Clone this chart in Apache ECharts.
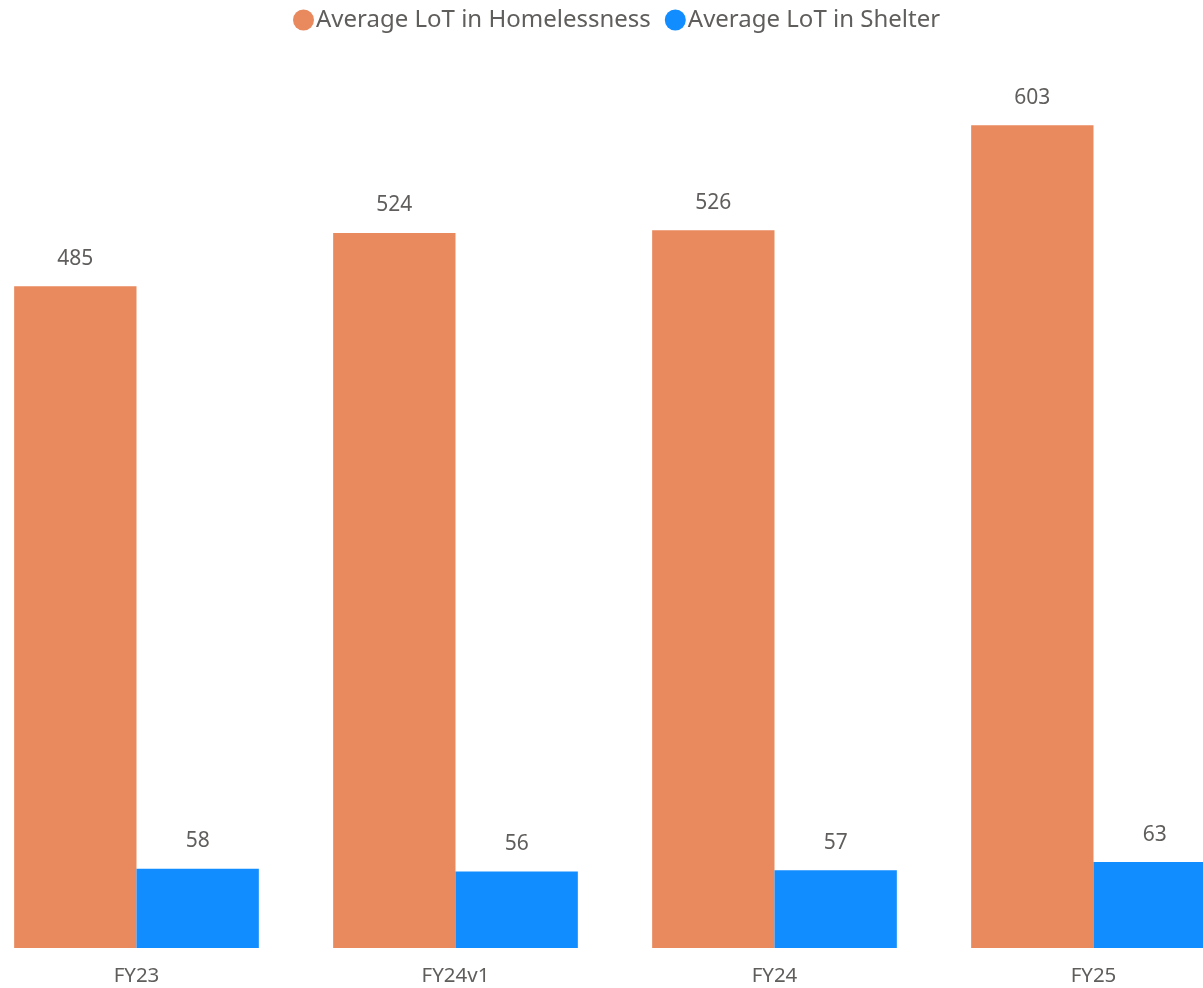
<!DOCTYPE html>
<html><head><meta charset="utf-8">
<script src="https://cdn.jsdelivr.net/npm/echarts@6/dist/echarts.min.js"></script>
<style>html,body{margin:0;padding:0;background:#fff;overflow:hidden;width:1203px;height:988px;position:relative}
#c{position:absolute;left:-23px;top:0;width:1276px;height:988px}</style>
</head><body><div id="c"></div>
<script>
const categories = ['FY23', 'FY24v1', 'FY24', 'FY25'];
const homelessness = [485, 524, 526, 603];
const shelter = [58, 56, 57, 63];
const seriesNames = ['Average LoT in Homelessness', 'Average LoT in Shelter'];

const font = 'Noto Sans';
const txt = '#605E5C';
const chart = echarts.init(document.getElementById('c'));
const lbl = {show: true, position: 'top', distance: 17, color: txt, fontFamily: font, fontSize: 21};
chart.setOption({
  animation: false,
  legend: {
    top: 3, left: 311, itemWidth: 21, itemHeight: 21, itemGap: 14,
    icon: 'circle',
    textStyle: {color: txt, fontFamily: font, fontSize: 24, padding: [0, 0, 0, -3]},
    data: seriesNames
  },
  grid: {left: 0, right: 0, bottom: 40, top: 61, containLabel: false},
  xAxis: {
    type: 'category', data: categories,
    axisLine: {show: false}, axisTick: {show: false},
    axisLabel: {color: txt, fontFamily: font, fontSize: 20.5, margin: 18}
  },
  yAxis: {type: 'value', min: 0, max: 650, show: false, splitLine: {show: false}},
  series: [
    {name: seriesNames[0], type: 'bar', data: homelessness, barGap: 0, barCategoryGap: '23.3%',
     itemStyle: {color: '#E8895E'}, label: lbl},
    {name: seriesNames[1], type: 'bar', data: shelter,
     itemStyle: {color: '#118DFF'}, label: lbl}
  ]
});
</script></body></html>
